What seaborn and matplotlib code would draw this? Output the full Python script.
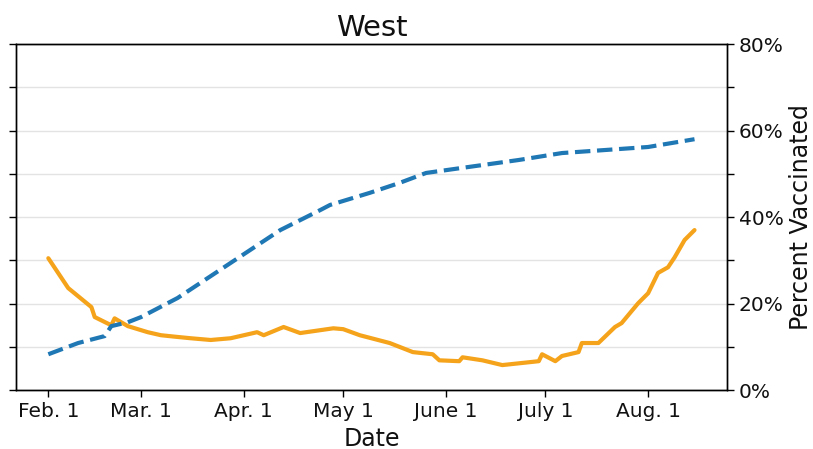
#importing libraries
import pandas as pd
import matplotlib
matplotlib.use('Agg')
import matplotlib.pyplot as plt
import seaborn as sns

# case trend (left axis, labels hidden)
case_dates = ['2021-02-01', '2021-02-07', '2021-02-14', '2021-02-15', '2021-02-20', '2021-02-21',
              '2021-02-25', '2021-03-03', '2021-03-07', '2021-03-12', '2021-03-16', '2021-03-22',
              '2021-03-28', '2021-04-05', '2021-04-07', '2021-04-13', '2021-04-18', '2021-04-28',
              '2021-05-01', '2021-05-06', '2021-05-15', '2021-05-22', '2021-05-28', '2021-05-30',
              '2021-06-05', '2021-06-06', '2021-06-12', '2021-06-18', '2021-06-29', '2021-06-30',
              '2021-07-04', '2021-07-06', '2021-07-11', '2021-07-12', '2021-07-17', '2021-07-22',
              '2021-07-24', '2021-07-29', '2021-08-01', '2021-08-04', '2021-08-07', '2021-08-09',
              '2021-08-12', '2021-08-15']
case_vals = [30.5, 23.6, 19.2, 16.9, 15.0, 16.6,
             14.8, 13.4, 12.7, 12.3, 12.0, 11.6,
             12.0, 13.4, 12.7, 14.6, 13.2, 14.3,
             14.1, 12.7, 10.9, 8.8, 8.3, 6.9,
             6.7, 7.6, 6.9, 5.8, 6.7, 8.3,
             6.7, 7.9, 8.8, 10.9, 10.9, 14.6,
             15.5, 20.1, 22.4, 27.1, 28.4, 30.7,
             34.7, 37.0]

# percent vaccinated (right axis)
vax_dates = ['2021-02-01', '2021-02-10', '2021-02-18', '2021-02-20', '2021-02-25', '2021-03-01',
             '2021-03-12', '2021-03-28', '2021-04-12', '2021-04-24', '2021-04-27', '2021-05-09',
             '2021-05-18', '2021-05-26', '2021-06-08', '2021-06-23', '2021-07-06', '2021-08-01',
             '2021-08-15']
vax_pct = [8.3, 10.9, 12.5, 14.8, 15.7, 16.9,
           21.3, 29.4, 37.0, 41.6, 42.8, 45.6,
           47.9, 50.2, 51.6, 53.2, 54.8, 56.2,
           58.0]

tick_dates = ['2021-02-01', '2021-03-01', '2021-04-01', '2021-05-01', '2021-06-01', '2021-07-01', '2021-08-01']
tick_labels = ['Feb. 1', 'Mar. 1', 'Apr. 1', 'May 1', 'June 1', 'July 1', 'Aug. 1']

cases = pd.DataFrame({'date': pd.to_datetime(case_dates), 'value': case_vals})
vax = pd.DataFrame({'date': pd.to_datetime(vax_dates), 'pct': [v / 100 for v in vax_pct]})

sns.set_style('white')
plt.rcParams['font.family'] = ['DejaVu Sans']
plt.rcParams['text.color'] = '#111111'
plt.rcParams['axes.labelcolor'] = '#111111'
plt.rcParams['xtick.color'] = '#111111'
plt.rcParams['ytick.color'] = '#111111'

fig, ax = plt.subplots(figsize=(8.13, 4.49), dpi=100)
fig.subplots_adjust(left=0.0197, right=0.894, top=0.902, bottom=0.131)

sns.lineplot(data=cases, x='date', y='value', ax=ax, color='#f5a31a', linewidth=3)
ax.set_ylim(0, 80)
ax.set_yticks(range(0, 81, 10))
ax.set_yticklabels([])
ax.set_ylabel('')
ax.grid(axis='y', color='#e3e3e3', linewidth=1)
ax.set_axisbelow(True)

ax2 = ax.twinx()
sns.lineplot(data=vax, x='date', y='pct', ax=ax2, color='#1f77b4', linewidth=3, linestyle='--')
ax2.set_ylim(0, 0.8)
ax2.set_yticks([i / 100 for i in range(0, 81, 10)])
ax2.set_yticklabels([f'{i}%' if i % 20 == 0 else '' for i in range(0, 81, 10)], fontsize=14.5)
ax2.set_ylabel('Percent Vaccinated', fontsize=17)

ax.set_xticks(pd.to_datetime(tick_dates))
ax.set_xticklabels(tick_labels, fontsize=14.5)
ax.set_xlabel('Date', fontsize=17)
ax.set_title('West', fontsize=21)

for a in (ax, ax2):
    for s in a.spines.values():
        s.set_color('black')
        s.set_linewidth(1)
    a.tick_params(axis='both', which='both', direction='out', length=5, width=1, color='black',
                  left=(a is ax), right=(a is ax2), bottom=True)

plt.savefig('out.png', dpi=100)
